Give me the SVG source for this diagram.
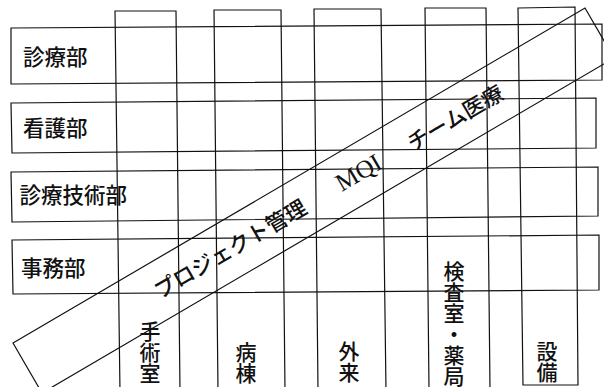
<svg xmlns="http://www.w3.org/2000/svg" width="604" height="387" viewBox="0 0 604 387">
<style>
.box{fill:none;stroke:#111;stroke-width:1.2;stroke-linejoin:miter}
.lbl{font-family:"Noto Sans CJK JP","Noto Sans CJK SC",sans-serif;font-size:21.5px;font-weight:500;fill:#111}
.vl{font-family:"Noto Sans CJK JP","Noto Sans CJK SC",sans-serif;font-size:21px;font-weight:500;fill:#111;writing-mode:vertical-rl}
.bt{font-family:"Noto Sans CJK JP","Noto Sans CJK SC",sans-serif;font-size:21.5px;font-weight:500;fill:#111}
.mqi{font-family:"Liberation Serif",serif;font-size:25px;fill:#111}
</style>
<rect width="604" height="387" fill="#fff"/>
<g id="row-shinryobu">
<polygon class="box" points="11,28 602,24 602,80 11,84"/>
<text class="lbl" x="23" y="65">診療部</text>
</g>
<g id="row-kangobu">
<polygon class="box" points="11,103 596,98 596,148 12,153"/>
<text class="lbl" x="23" y="136">看護部</text>
</g>
<g id="row-shinryogijutsubu">
<polygon class="box" points="11,172 598,167 598,216 12,222"/>
<text class="lbl" x="19.5" y="203">診療技術部</text>
</g>
<g id="row-jimubu">
<polygon class="box" points="12,240 599,235 599,290 13,294"/>
<text class="lbl" x="21" y="276">事務部</text>
</g>
<g id="col-shujutsushitsu">
<polygon class="box" points="115,11 176,11 180,392 120,392"/>
<text class="vl" x="150" y="321">手術室</text>
</g>
<g id="col-byoto">
<polygon class="box" points="214,10 281,10 285,391 218,391"/>
<text class="vl" x="246" y="342">病棟</text>
</g>
<g id="col-gairai">
<polygon class="box" points="314,9 381,9 386,390 318,390"/>
<text class="vl" x="349" y="341">外来</text>
</g>
<g id="col-kensa-yakkyoku">
<polygon class="box" points="425,8 486,8 490,389 429,389"/>
<text class="vl" x="454" y="260.5">検査室・薬局</text>
</g>
<g id="col-setsubi">
<polygon class="box" points="518,8 575,7 578,385 523,385"/>
<text class="vl" x="547" y="341">設備</text>
</g>
<g id="band">
<polygon class="box" points="13,343 585,8 614,58 42,393"/>
<g transform="translate(13,343) rotate(-30.36)">
<text class="bt" x="149" y="36.5">プロジェクト管理</text>
<text class="mqi" x="360" y="36">MQI</text>
<text class="bt" x="442" y="37" font-size="24">チーム医療</text>
</g>
</g>
</svg>
